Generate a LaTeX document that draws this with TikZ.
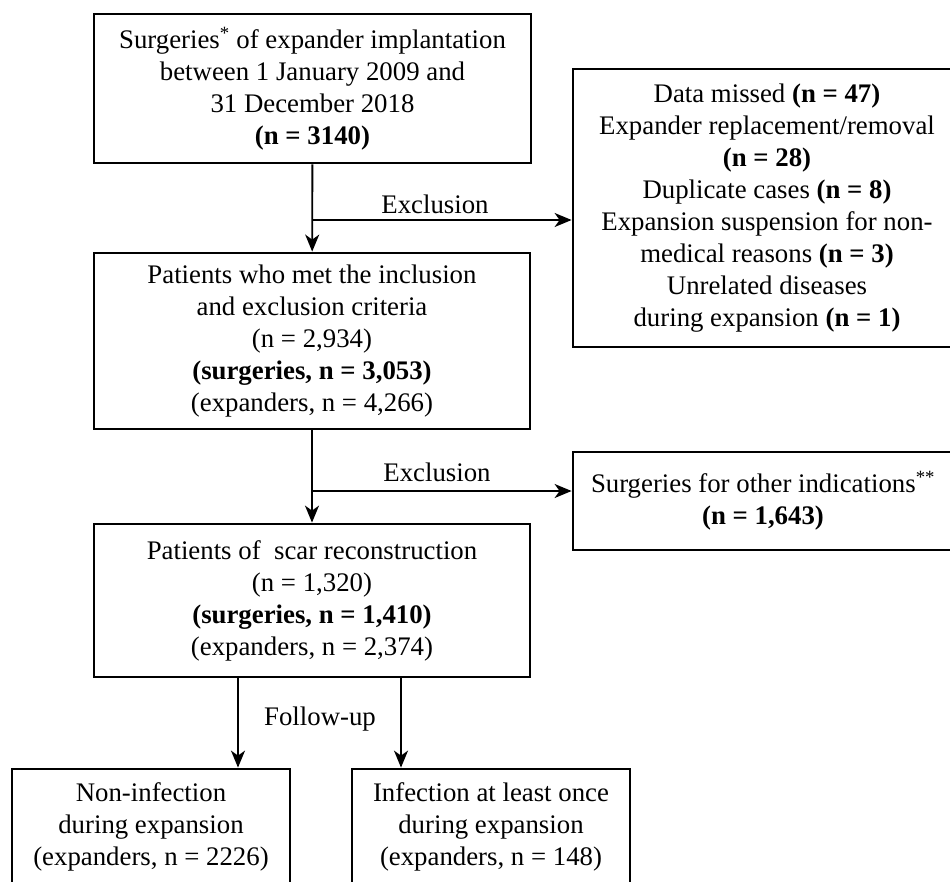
\documentclass[tikz,border=0pt]{standalone}
\usepackage{fontspec}
\setmainfont{Liberation Serif}
\usetikzlibrary{arrows.meta}
\tikzstyle{flowbox} = [rectangle, draw=black, line width=2.8pt, inner sep=0pt, align=center, font=\fontsize{26.8}{32}\selectfont]
\tikzstyle{arrow} = [line width=1.9pt, ->, >={Stealth[length=17pt, width=14pt, inset=5pt]}]
\tikzstyle{lbl} = [inner sep=0pt, font=\fontsize{26.8}{32}\selectfont]

\begin{document}
\begin{tikzpicture}[x=1pt, y=-1pt]
  \useasboundingbox (0,0) rectangle (950,881);
  \clip (0,0) rectangle (950,881);

  % main column
  \node (surgeries) [flowbox, minimum width=437pt, minimum height=149pt] at (312.5,88.5) {Surgeries\textsuperscript{*} of expander implantation\\ between 1 January 2009 and\\ 31 December 2018\\ \textbf{(n = 3140)}};
  \node (patients) [flowbox, minimum width=436pt, minimum height=176pt] at (312,341) {Patients who met the inclusion\\ and exclusion criteria\\ (n = 2,934)\\ \textbf{(surgeries, n = 3,053)}\\ (expanders, n = 4,266)};
  \node (scar) [flowbox, minimum width=436pt, minimum height=153pt] at (312,600.5) {Patients of~ scar reconstruction\\ (n = 1,320)\\ \textbf{(surgeries, n = 1,410)}\\ (expanders, n = 2,374)};

  % exclusions
  \node (excluded) [flowbox, minimum width=388pt, minimum height=278pt] at (767,208) {Data missed \textbf{(n = 47)}\\ Expander replacement/removal\\ \textbf{(n = 28)}\\ Duplicate cases \textbf{(n = 8)}\\ Expansion suspension for non-\\ medical reasons \textbf{(n = 3)}\\ Unrelated diseases\\ during expansion \textbf{(n = 1)}};
  \node (other) [flowbox, minimum width=380pt, minimum height=98pt] at (763,501) {Surgeries for other indications\textsuperscript{**}\\ \textbf{(n = 1,643)}};

  % outcomes
  \node (noninf) [flowbox, minimum width=278pt, minimum height=116pt] at (151,827) {Non-infection\\ during expansion\\ (expanders, n = 2226)};
  \node (inf) [flowbox, minimum width=278pt, minimum height=116pt] at (491,827) {Infection at least once\\ during expansion\\ (expanders, n = 148)};

  \coordinate (split1) at (312.5,220);
  \coordinate (split2) at (312,491);

  \draw [arrow] (surgeries) -- (patients);
  \draw [arrow] (split1) -- (split1 -| excluded.west);
  \node (excl1) [lbl] at (435,204) {Exclusion};

  \draw [arrow] (patients) -- (scar);
  \draw [arrow] (split2) -- (split2 -| other.west);
  \node (excl2) [lbl] at (437,472) {Exclusion};

  \draw [arrow] ([xshift=-74pt]scar.south) -- ([xshift=-74pt]scar.south |- noninf.north);
  \draw [arrow] ([xshift=89pt]scar.south) -- ([xshift=89pt]scar.south |- inf.north);
  \node (follow) [lbl] at (320,719) {Follow-up};
\end{tikzpicture}
\end{document}
